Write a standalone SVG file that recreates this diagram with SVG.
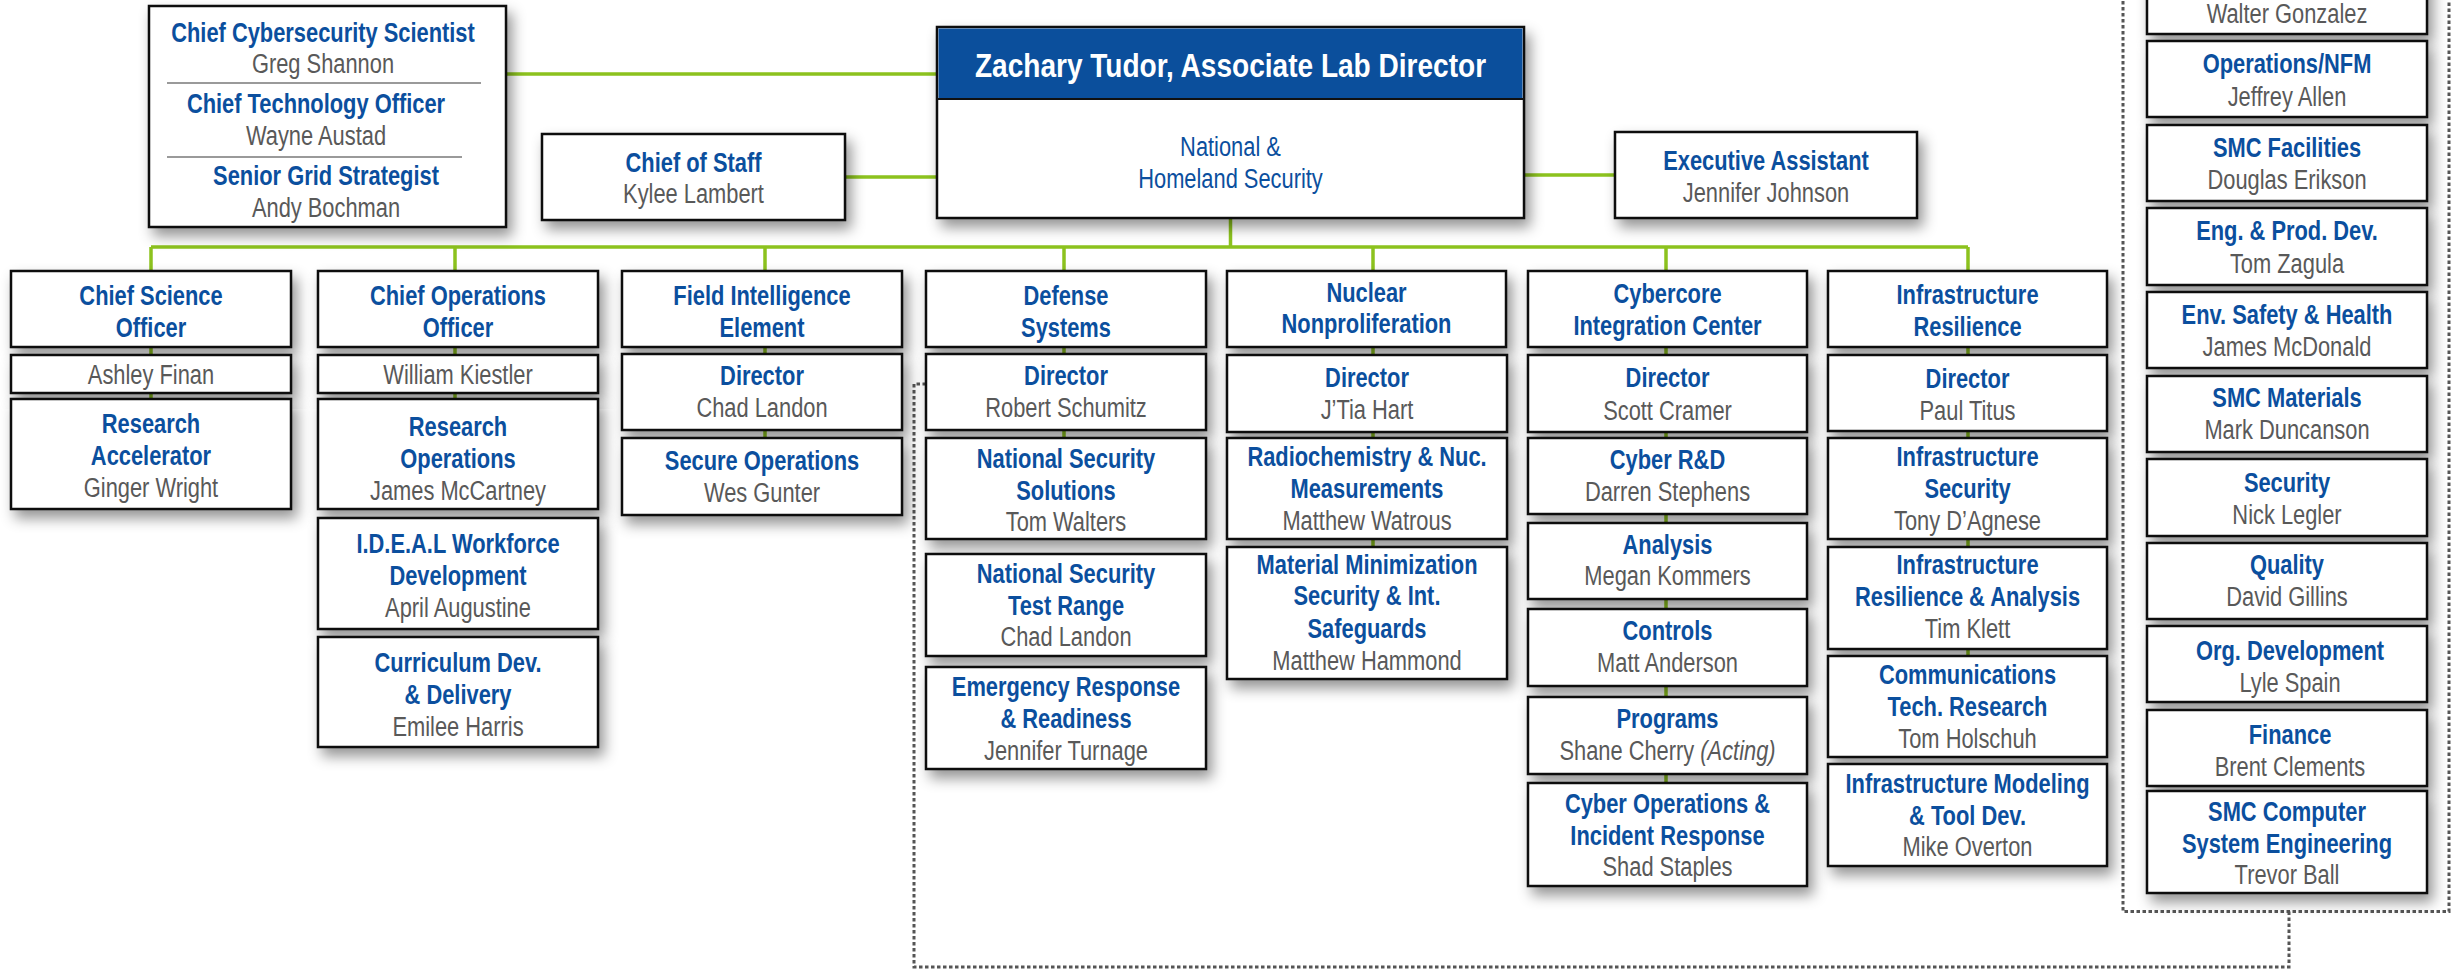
<svg xmlns="http://www.w3.org/2000/svg" width="2453" height="969" viewBox="0 0 2453 969">
<defs>
<filter id="sh" x="-10%" y="-10%" width="130%" height="150%">
<feDropShadow dx="5" dy="8" stdDeviation="7" flood-color="#000" flood-opacity="0.42"/>
</filter>
<style>
.box{fill:#fff;stroke:#111;stroke-width:2.5;filter:url(#sh)}
.h{font-family:"Liberation Sans",Arial,sans-serif;font-weight:bold;font-size:27px;fill:#0b4f9e;text-anchor:middle}
.n{font-family:"Liberation Sans",Arial,sans-serif;font-size:27px;fill:#595959;text-anchor:middle}
.b{font-family:"Liberation Sans",Arial,sans-serif;font-size:27px;fill:#0b4f9e;text-anchor:middle}
.t{font-family:"Liberation Sans",Arial,sans-serif;font-weight:bold;font-size:34px;fill:#fff;text-anchor:middle}
.g{fill:none;stroke:#8cc21e;stroke-width:3.5}
.d{fill:none;stroke:#555;stroke-width:3;stroke-dasharray:3.5 2.5}
.sep{stroke:#9a9a9a;stroke-width:1.8}
</style>
</defs>
<rect width="2453" height="969" fill="#fff"/>

<g id="connectors">
<path class="g" d="M506 74H937M845 177H937M1524 175H1616M1230.5 218V247M151 247H1968"/>
<path class="g" d="M151 247V399M455 247V399M765 247V438M1064 247V438M1373 247V547M1666 247V783M1968 247V656"/>
<path class="d" d="M926 384H914V967H2289V911.5"/>
<path class="d" d="M2123 -5V911.5H2449V-5"/>
</g>

<g id="advisors">
<rect class="box" x="149" y="6" width="357" height="221"/>
<line class="sep" x1="167" y1="83" x2="481" y2="83"/>
<line class="sep" x1="167" y1="157" x2="462" y2="157"/>
<g transform="translate(323 0) scale(0.81 1)"><text class="h" y="42">Chief Cybersecurity Scientist</text><text class="n" y="73">Greg Shannon</text></g>
<g transform="translate(316 0) scale(0.81 1)"><text class="h" y="113">Chief Technology Officer</text><text class="n" y="145">Wayne Austad</text></g>
<g transform="translate(326 0) scale(0.81 1)"><text class="h" y="185">Senior Grid Strategist</text><text class="n" y="217">Andy Bochman</text></g>
</g>

<g id="chief-of-staff">
<rect class="box" x="542" y="134" width="303" height="86"/>
<g transform="translate(693.5 0) scale(0.81 1)"><text class="h" y="172">Chief of Staff</text><text class="n" y="203">Kylee Lambert</text></g>
</g>

<g id="director">
<rect class="box" x="937" y="27" width="587" height="191"/>
<rect x="938.5" y="28.5" width="584" height="71" fill="#0b4f9c"/>
<line x1="937" y1="99" x2="1524" y2="99" stroke="#111" stroke-width="2"/>
<g transform="translate(1230.5 0) scale(0.825 1)"><text class="t" y="77">Zachary Tudor, Associate Lab Director</text></g>
<g transform="translate(1230.5 0) scale(0.81 1)"><text class="b" y="156">National &amp;</text><text class="b" y="188">Homeland Security</text></g>
</g>

<g id="exec-assistant">
<rect class="box" x="1615" y="132" width="302" height="86"/>
<g transform="translate(1766 0) scale(0.81 1)"><text class="h" y="170">Executive Assistant</text><text class="n" y="202">Jennifer Johnson</text></g>
</g>

<!-- Column: Chief Science Officer -->
<g id="cso">
<rect class="box" x="11" y="271" width="280" height="76"/>
<g transform="translate(151 0) scale(0.81 1)"><text class="h" y="305.5">Chief Science</text><text class="h" y="337.5">Officer</text></g>
</g>
<g id="cso-name">
<rect class="box" x="11" y="355" width="280" height="38"/>
<g transform="translate(151 0) scale(0.81 1)"><text class="n" y="384">Ashley Finan</text></g>
</g>
<g id="research-accelerator">
<rect class="box" x="11" y="399" width="280" height="110"/>
<g transform="translate(151 0) scale(0.81 1)"><text class="h" y="433">Research</text><text class="h" y="465">Accelerator</text><text class="n" y="497">Ginger Wright</text></g>
</g>

<!-- Column: Chief Operations Officer -->
<g id="coo">
<rect class="box" x="318" y="271" width="280" height="76"/>
<g transform="translate(458 0) scale(0.81 1)"><text class="h" y="305.5">Chief Operations</text><text class="h" y="337.5">Officer</text></g>
</g>
<g id="coo-name">
<rect class="box" x="318" y="355" width="280" height="38"/>
<g transform="translate(458 0) scale(0.81 1)"><text class="n" y="384">William Kiestler</text></g>
</g>
<g id="research-operations">
<rect class="box" x="318" y="399" width="280" height="110"/>
<g transform="translate(458 0) scale(0.81 1)"><text class="h" y="436.5">Research</text><text class="h" y="468.5">Operations</text><text class="n" y="500">James McCartney</text></g>
</g>
<g id="ideal">
<rect class="box" x="318" y="518" width="280" height="111"/>
<g transform="translate(458 0) scale(0.81 1)"><text class="h" y="553.5">I.D.E.A.L Workforce</text><text class="h" y="585">Development</text><text class="n" y="617">April Augustine</text></g>
</g>
<g id="curriculum">
<rect class="box" x="318" y="637" width="280" height="110"/>
<g transform="translate(458 0) scale(0.81 1)"><text class="h" y="672.5">Curriculum Dev.</text><text class="h" y="704">&amp; Delivery</text><text class="n" y="736">Emilee Harris</text></g>
</g>

<!-- Column: Field Intelligence Element -->
<g id="fie">
<rect class="box" x="622" y="271" width="280" height="76"/>
<g transform="translate(762 0) scale(0.81 1)"><text class="h" y="305.5">Field Intelligence</text><text class="h" y="337.5">Element</text></g>
</g>
<g id="fie-director">
<rect class="box" x="622" y="354" width="280" height="76"/>
<g transform="translate(762 0) scale(0.81 1)"><text class="h" y="385">Director</text><text class="n" y="417">Chad Landon</text></g>
</g>
<g id="secure-operations">
<rect class="box" x="622" y="438" width="280" height="77"/>
<g transform="translate(762 0) scale(0.81 1)"><text class="h" y="470.5">Secure Operations</text><text class="n" y="502">Wes Gunter</text></g>
</g>

<!-- Column: Defense Systems -->
<g id="ds">
<rect class="box" x="926" y="271" width="280" height="76"/>
<g transform="translate(1066 0) scale(0.81 1)"><text class="h" y="305">Defense</text><text class="h" y="337">Systems</text></g>
</g>
<g id="ds-director">
<rect class="box" x="926" y="354" width="280" height="76"/>
<g transform="translate(1066 0) scale(0.81 1)"><text class="h" y="385">Director</text><text class="n" y="417">Robert Schumitz</text></g>
</g>
<g id="nss">
<rect class="box" x="926" y="438" width="280" height="101"/>
<g transform="translate(1066 0) scale(0.81 1)"><text class="h" y="468.5">National Security</text><text class="h" y="500">Solutions</text><text class="n" y="531.5">Tom Walters</text></g>
</g>
<g id="nstr">
<rect class="box" x="926" y="554" width="280" height="102"/>
<g transform="translate(1066 0) scale(0.81 1)"><text class="h" y="583.5">National Security</text><text class="h" y="615">Test Range</text><text class="n" y="646.5">Chad Landon</text></g>
</g>
<g id="emergency">
<rect class="box" x="926" y="667" width="280" height="102"/>
<g transform="translate(1066 0) scale(0.81 1)"><text class="h" y="696.5">Emergency Response</text><text class="h" y="728.5">&amp; Readiness</text><text class="n" y="760">Jennifer Turnage</text></g>
</g>

<!-- Column: Nuclear Nonproliferation -->
<g id="nn">
<rect class="box" x="1227" y="271" width="279" height="76"/>
<g transform="translate(1366.5 0) scale(0.81 1)"><text class="h" y="302">Nuclear</text><text class="h" y="333.5">Nonproliferation</text></g>
</g>
<g id="nn-director">
<rect class="box" x="1227" y="355" width="280" height="77"/>
<g transform="translate(1367 0) scale(0.81 1)"><text class="h" y="387.5">Director</text><text class="n" y="419.5">J’Tia Hart</text></g>
</g>
<g id="radiochem">
<rect class="box" x="1227" y="438" width="280" height="101"/>
<g transform="translate(1367 0) scale(0.81 1)"><text class="h" y="466.5">Radiochemistry &amp; Nuc.</text><text class="h" y="498.5">Measurements</text><text class="n" y="530.5">Matthew Watrous</text></g>
</g>
<g id="material-min">
<rect class="box" x="1227" y="547" width="280" height="132"/>
<g transform="translate(1367 0) scale(0.81 1)"><text class="h" y="574">Material Minimization</text><text class="h" y="605.5">Security &amp; Int.</text><text class="h" y="638">Safeguards</text><text class="n" y="670">Matthew Hammond</text></g>
</g>

<!-- Column: Cybercore Integration Center -->
<g id="cic">
<rect class="box" x="1528" y="271" width="279" height="76"/>
<g transform="translate(1667.5 0) scale(0.81 1)"><text class="h" y="303">Cybercore</text><text class="h" y="335">Integration Center</text></g>
</g>
<g id="cic-director">
<rect class="box" x="1528" y="355" width="279" height="77"/>
<g transform="translate(1667.5 0) scale(0.81 1)"><text class="h" y="387.5">Director</text><text class="n" y="420">Scott Cramer</text></g>
</g>
<g id="cyber-rd">
<rect class="box" x="1528" y="438" width="279" height="76"/>
<g transform="translate(1667.5 0) scale(0.81 1)"><text class="h" y="469.5">Cyber R&amp;D</text><text class="n" y="501.5">Darren Stephens</text></g>
</g>
<g id="analysis">
<rect class="box" x="1528" y="523" width="279" height="76"/>
<g transform="translate(1667.5 0) scale(0.81 1)"><text class="h" y="554">Analysis</text><text class="n" y="585.5">Megan Kommers</text></g>
</g>
<g id="controls">
<rect class="box" x="1528" y="609" width="279" height="77"/>
<g transform="translate(1667.5 0) scale(0.81 1)"><text class="h" y="640.5">Controls</text><text class="n" y="672.5">Matt Anderson</text></g>
</g>
<g id="programs">
<rect class="box" x="1528" y="697" width="279" height="77"/>
<g transform="translate(1667.5 0) scale(0.81 1)"><text class="h" y="728.5">Programs</text><text class="n" y="760">Shane Cherry <tspan font-style="italic">(Acting)</tspan></text></g>
</g>
<g id="cyber-ops">
<rect class="box" x="1528" y="783" width="279" height="103"/>
<g transform="translate(1667.5 0) scale(0.81 1)"><text class="h" y="813.5">Cyber Operations &amp;</text><text class="h" y="845">Incident Response</text><text class="n" y="876.5">Shad Staples</text></g>
</g>

<!-- Column: Infrastructure Resilience -->
<g id="ir">
<rect class="box" x="1828" y="271" width="279" height="76"/>
<g transform="translate(1967.5 0) scale(0.81 1)"><text class="h" y="304">Infrastructure</text><text class="h" y="336">Resilience</text></g>
</g>
<g id="ir-director">
<rect class="box" x="1828" y="355" width="279" height="76"/>
<g transform="translate(1967.5 0) scale(0.81 1)"><text class="h" y="388">Director</text><text class="n" y="420">Paul Titus</text></g>
</g>
<g id="infra-security">
<rect class="box" x="1828" y="438" width="279" height="101"/>
<g transform="translate(1967.5 0) scale(0.81 1)"><text class="h" y="466">Infrastructure</text><text class="h" y="498">Security</text><text class="n" y="530">Tony D’Agnese</text></g>
</g>
<g id="ira">
<rect class="box" x="1828" y="547" width="279" height="102"/>
<g transform="translate(1967.5 0) scale(0.81 1)"><text class="h" y="574.5">Infrastructure</text><text class="h" y="606.5">Resilience &amp; Analysis</text><text class="n" y="638.5">Tim Klett</text></g>
</g>
<g id="comm-tech">
<rect class="box" x="1828" y="656" width="279" height="101"/>
<g transform="translate(1967.5 0) scale(0.81 1)"><text class="h" y="684.5">Communications</text><text class="h" y="716.5">Tech. Research</text><text class="n" y="748.5">Tom Holschuh</text></g>
</g>
<g id="infra-modeling">
<rect class="box" x="1828" y="764" width="279" height="102"/>
<g transform="translate(1967.5 0) scale(0.81 1)"><text class="h" y="793.5">Infrastructure Modeling</text><text class="h" y="825">&amp; Tool Dev.</text><text class="n" y="856.5">Mike Overton</text></g>
</g>

<!-- Right panel -->
<g id="walter-gonzalez">
<rect class="box" x="2147" y="-43" width="280" height="77"/>
<g transform="translate(2287 0) scale(0.81 1)"><text class="n" y="23">Walter Gonzalez</text></g>
</g>
<g id="operations-nfm">
<rect class="box" x="2147" y="41" width="280" height="76"/>
<g transform="translate(2287 0) scale(0.81 1)"><text class="h" y="73.5">Operations/NFM</text><text class="n" y="106">Jeffrey Allen</text></g>
</g>
<g id="smc-facilities">
<rect class="box" x="2147" y="125" width="280" height="76"/>
<g transform="translate(2287 0) scale(0.81 1)"><text class="h" y="157">SMC Facilities</text><text class="n" y="189.5">Douglas Erikson</text></g>
</g>
<g id="eng-prod">
<rect class="box" x="2147" y="208" width="280" height="77"/>
<g transform="translate(2287 0) scale(0.81 1)"><text class="h" y="240.5">Eng. &amp; Prod. Dev.</text><text class="n" y="273">Tom Zagula</text></g>
</g>
<g id="env-safety">
<rect class="box" x="2147" y="292" width="280" height="76"/>
<g transform="translate(2287 0) scale(0.81 1)"><text class="h" y="324">Env. Safety &amp; Health</text><text class="n" y="356">James McDonald</text></g>
</g>
<g id="smc-materials">
<rect class="box" x="2147" y="376" width="280" height="76"/>
<g transform="translate(2287 0) scale(0.81 1)"><text class="h" y="407">SMC Materials</text><text class="n" y="439">Mark Duncanson</text></g>
</g>
<g id="security">
<rect class="box" x="2147" y="459" width="280" height="77"/>
<g transform="translate(2287 0) scale(0.81 1)"><text class="h" y="492">Security</text><text class="n" y="524">Nick Legler</text></g>
</g>
<g id="quality">
<rect class="box" x="2147" y="543" width="280" height="76"/>
<g transform="translate(2287 0) scale(0.81 1)"><text class="h" y="574">Quality</text><text class="n" y="606">David Gillins</text></g>
</g>
<g id="org-development">
<rect class="box" x="2147" y="626" width="280" height="76"/>
<g transform="translate(2290 0) scale(0.81 1)"><text class="h" y="660">Org. Development</text><text class="n" y="692">Lyle Spain</text></g>
</g>
<g id="finance">
<rect class="box" x="2147" y="710" width="280" height="76"/>
<g transform="translate(2290 0) scale(0.81 1)"><text class="h" y="744">Finance</text><text class="n" y="776">Brent Clements</text></g>
</g>
<g id="smc-computer">
<rect class="box" x="2147" y="791" width="280" height="102"/>
<g transform="translate(2287 0) scale(0.81 1)"><text class="h" y="821">SMC Computer</text><text class="h" y="853">System Engineering</text><text class="n" y="884">Trevor Ball</text></g>
</g>
</svg>
